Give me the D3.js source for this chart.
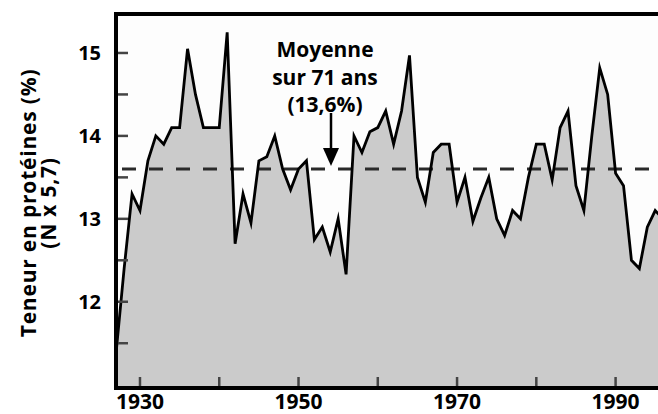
<!DOCTYPE html>
<html>
<head>
<meta charset="utf-8">
<script src="https://cdn.jsdelivr.net/npm/d3@7"></script>
<style>
  body { margin: 0; background: #fff; }
  svg { display: block; font-family: 'Open Sans', Lato, sans-serif; font-weight: bold; }
</style>
</head>
<body>
<svg id="chart"></svg>
<script>
// protein content per harvest year, 1926-1996 (71 years)
const years = d3.range(1926, 1997)
const protein = [
  11.0, 11.4, 12.4, 13.3, 13.1, 13.7, 14.0, 13.9, 14.1, 14.1,
  15.05, 14.5, 14.1, 14.1, 14.1, 15.25, 12.7, 13.3, 12.95, 13.7,
  13.75, 14.0, 13.6, 13.35, 13.6, 13.7, 12.75, 12.9, 12.6, 13.0,
  12.33, 14.0, 13.8, 14.05, 14.1, 14.3, 13.9, 14.3, 14.97, 13.5,
  13.2, 13.8, 13.9, 13.9, 13.2, 13.5, 12.97, 13.25, 13.5, 13.0,
  12.8, 13.1, 13.0, 13.5, 13.9, 13.9, 13.47, 14.1, 14.3, 13.4,
  13.1, 14.0, 14.82, 14.5, 13.55, 13.4, 12.5, 12.4, 12.9, 13.1,
  13.0
]
const meanValue = 13.6
const yTicks = [12, 13, 14, 15]
const yMinorTicks = [11.5, 12, 12.5, 13, 13.5, 14, 14.5, 15]
const xTicks = [1930, 1940, 1950, 1960, 1970, 1980, 1990]
const xLabels = [1930, 1950, 1970, 1990]
const noteLines = ['Moyenne', 'sur 71 ans', '(13,6%)']
const yTitle = ['Teneur en protéines (%)', '(N x 5,7)']

const width = 658, height = 414
const plot = { left: 116, right: 658, top: 14, bottom: 388 }

const x = d3.scaleLinear().domain([1927, 1995.35]).range([116.2, 658])
const y = d3.scaleLinear().domain([10.96, 15.47]).range([388, 14])

const svg = d3.select('#chart').attr('width', width).attr('height', height)

svg.append('clipPath').attr('id', 'plotClip')
  .append('rect')
  .attr('x', plot.left).attr('y', plot.top)
  .attr('width', plot.right - plot.left).attr('height', plot.bottom - plot.top)

const data = years.map((yr, i) => ({ year: yr, value: protein[i] }))

const g = svg.append('g').attr('clip-path', 'url(#plotClip)')

g.append('rect')
  .attr('x', plot.left).attr('y', plot.top)
  .attr('width', plot.right - plot.left).attr('height', plot.bottom - plot.top)
  .attr('fill', '#fdfdfd')

const area = d3.area()
  .x(d => x(d.year))
  .y0(y(10.96))
  .y1(d => y(d.value))

g.append('path')
  .datum(data)
  .attr('d', area)
  .attr('fill', '#cbcbcb')

// mean line
g.append('line')
  .attr('x1', plot.left).attr('x2', plot.right)
  .attr('y1', y(meanValue)).attr('y2', y(meanValue))
  .attr('stroke', '#2a2a2a')
  .attr('stroke-width', 3)
  .attr('stroke-dasharray', '14 13')
  .attr('stroke-dashoffset', -6)

const line = d3.line()
  .x(d => x(d.year))
  .y(d => y(d.value))

g.append('path')
  .datum(data)
  .attr('d', line)
  .attr('fill', 'none')
  .attr('stroke', '#000')
  .attr('stroke-width', 2.8)
  .attr('stroke-linejoin', 'miter')
  .attr('stroke-miterlimit', 6)

// ticks inside the frame
svg.append('g').selectAll('line')
  .data(yMinorTicks)
  .join('line')
  .attr('x1', plot.left).attr('x2', plot.left + 12)
  .attr('y1', d => y(d)).attr('y2', d => y(d))
  .attr('stroke', '#444').attr('stroke-width', 2.5)

svg.append('g').selectAll('line')
  .data(xTicks)
  .join('line')
  .attr('x1', d => x(d)).attr('x2', d => x(d))
  .attr('y1', plot.bottom).attr('y2', plot.bottom - 11)
  .attr('stroke', '#444').attr('stroke-width', 2.5)

// frame
svg.append('path')
  .attr('d', `M${plot.right},${plot.top}H${plot.left}V${plot.bottom}H${plot.right}`)
  .attr('fill', 'none')
  .attr('stroke', '#000')
  .attr('stroke-width', 4)

// tick labels
svg.append('g').selectAll('text')
  .data(yTicks)
  .join('text')
  .attr('x', 101).attr('y', d => y(d))
  .attr('dy', '0.36em')
  .attr('text-anchor', 'end')
  .attr('font-size', 20)
  .text(d => d)

svg.append('g').selectAll('text')
  .data(xLabels)
  .join('text')
  .attr('x', d => x(d)).attr('y', 409)
  .attr('text-anchor', 'middle')
  .attr('font-size', 21)
  .text(d => d)

// y title
const title = svg.append('text')
  .attr('transform', 'translate(0,203) rotate(-90)')
  .attr('text-anchor', 'middle')
  .attr('font-size', 21)
  .attr('letter-spacing', 0.8)
title.selectAll('tspan')
  .data(yTitle)
  .join('tspan')
  .attr('x', 0)
  .attr('y', (d, i) => 36 + i * 20)
  .text(d => d)

// annotation
svg.append('g').selectAll('text')
  .data(noteLines)
  .join('text')
  .attr('x', 325).attr('y', (d, i) => 57 + i * 27.5)
  .attr('text-anchor', 'middle')
  .attr('font-size', 21)
  .text(d => d)

const ax = 331
svg.append('line')
  .attr('x1', ax).attr('x2', ax)
  .attr('y1', 113).attr('y2', 152)
  .attr('stroke', '#000').attr('stroke-width', 2.5)
svg.append('path')
  .attr('d', `M${ax - 8},${148}L${ax + 8},${148}L${ax},${166}Z`)
  .attr('fill', '#000')
</script>
</body>
</html>
